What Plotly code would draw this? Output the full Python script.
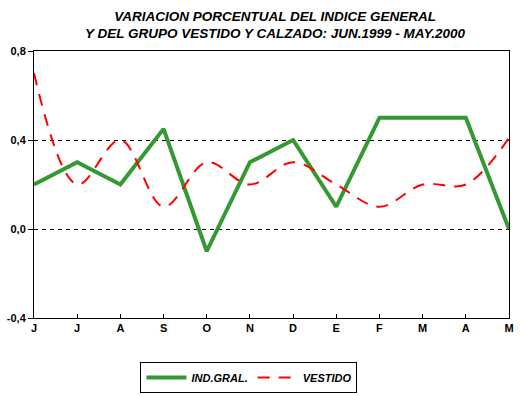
import plotly.graph_objects as go

months = ["J", "J", "A", "S", "O", "N", "D", "E", "F", "M", "A", "M"]
ind_gral = [0.2, 0.3, 0.2, 0.45, -0.1, 0.3, 0.4, 0.1, 0.5, 0.5, 0.5, 0.0]
vestido = [0.7, 0.2, 0.4, 0.1, 0.3, 0.2, 0.3, 0.2, 0.1, 0.2, 0.2, 0.41]
y_ticks = [-0.4, 0.0, 0.4, 0.8]
y_ticktext = ["-0,4", "0,0", "0,4", "0,8"]

x = list(range(len(months)))
font = "Liberation Sans, Arial, sans-serif"

fig = go.Figure()
fig.add_trace(go.Scatter(x=x, y=ind_gral, mode="lines", name="<b><i>IND.GRAL.</i></b>",
                         line=dict(color="#339933", width=4)))
fig.add_trace(go.Scatter(x=x, y=vestido, mode="lines", name="<b><i>VESTIDO</i></b>",
                         line=dict(color="#ff0000", width=2, dash="12px,9px", shape="spline", smoothing=1)))

fig.update_layout(
    width=521, height=396,
    margin=dict(l=34, r=12, t=51, b=78, autoexpand=False),
    paper_bgcolor="white", plot_bgcolor="white",
    font=dict(family=font, size=11, color="black"),
    title=dict(text="<b><i>VARIACION PORCENTUAL DEL INDICE GENERAL<br>Y DEL GRUPO VESTIDO Y CALZADO: JUN.1999 - MAY.2000</i></b>",
               x=0.528, xanchor="center", yref="container", y=1 - 20.5 / 396, yanchor="middle",
               font=dict(family=font, size=13.5, color="black")),
    showlegend=True,
    legend=dict(orientation="h", x=0.4526, xanchor="center", y=-0.165, yanchor="top",
                bordercolor="black", borderwidth=1, bgcolor="white",
                font=dict(family=font, size=11), itemwidth=40),
    xaxis=dict(range=[0, len(months) - 1], tickvals=x, ticktext=months, automargin=False,
               showline=True, linecolor="black", linewidth=1, mirror=True,
               ticks="inside", ticklen=4, tickcolor="black", showgrid=False, zeroline=False,
               tickfont=dict(family=font, size=11, weight="bold")),
    yaxis=dict(range=[-0.4, 0.8], tickvals=y_ticks, ticktext=y_ticktext, automargin=False,
               showline=True, linecolor="black", linewidth=1, mirror=True,
               ticks="outside", ticklen=5, tickcolor="black",
               showgrid=True, gridcolor="black", gridwidth=1, griddash="4px,4px",
               zeroline=False,
               tickfont=dict(family=font, size=11, weight="bold")),
)

fig.write_html("out.html", config={"displayModeBar": False},
               post_script="document.body.style.margin='0';")
